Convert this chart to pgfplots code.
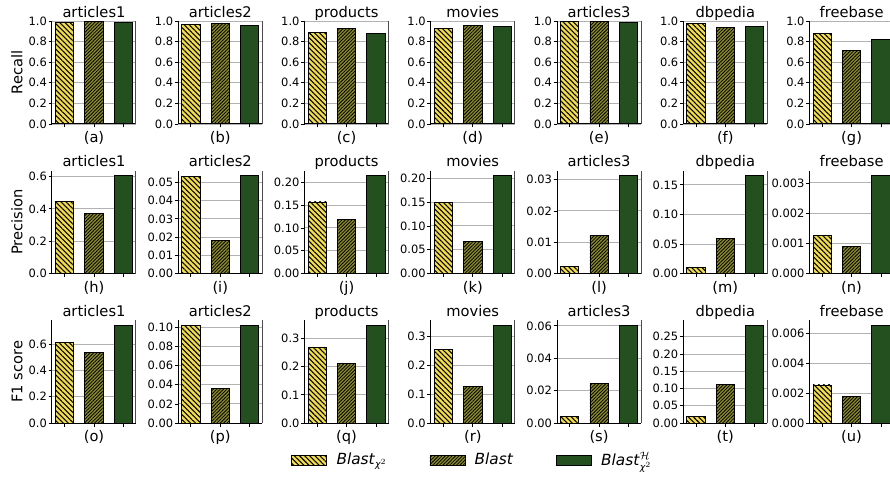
\documentclass[border=0pt]{standalone}
\usepackage{pgfplots}
\pgfplotsset{compat=1.18}
\usepgfplotslibrary{groupplots}
\usetikzlibrary{patterns.meta}
\usepackage{fontspec}
\setmainfont{DejaVu Sans}
\definecolor{yel}{RGB}{242,221,78}
\definecolor{oli}{RGB}{138,138,46}
\definecolor{dgr}{RGB}{35,80,30}
\definecolor{gridgray}{RGB}{178,178,178}
\newcommand\ticksize{\fontsize{8.6}{10}\selectfont}
\newcommand\labsize{\fontsize{11}{13}\selectfont}
\pgfplotsset{
  swatch/.style={legend image code/.code={\draw[##1] (0pt,-3.75pt) rectangle (26.25pt,3.75pt);}},
  A/.style={ybar, bar width=0.62, bar shift=0pt, fill=yel, draw=black, line width=0.6pt, forget plot,
    postaction={pattern={Lines[angle=-45,distance=2.7pt,line width=0.8pt]}, pattern color=black}},
  B/.style={ybar, bar width=0.62, bar shift=0pt, fill=oli, draw=black, line width=0.6pt, forget plot,
    postaction={pattern={Lines[angle=45,distance=1.8pt,line width=0.6pt]}, pattern color=black}},
  C/.style={ybar, bar width=0.62, bar shift=0pt, fill=dgr, draw=black, line width=0.6pt, forget plot},
  panel/.style={
    scale only axis, width=63pt, height=77.25pt,
    xmin=-0.43, xmax=2.43, ymin=0,
    xtick={0,1,2}, xticklabels={},
    scaled y ticks=false,
    tick align=outside, xtick pos=bottom, ytick pos=left,
    major tick length=2.6pt,
    tick style={black, line width=0.6pt},
    ymajorgrids, grid style={line width=0.7pt, color=gridgray},
    axis line style={draw=none},
    after end axis/.code={
      \draw[black, line width=0.75pt] (rel axis cs:0,1) -- (rel axis cs:0,0) -- (rel axis cs:1,0);
      \draw[black!70, line width=0.75pt] (rel axis cs:1,0) -- (rel axis cs:1,1);
    },
    every axis title/.style={at={(axis description cs:0.5,1)}, anchor=base, yshift=2.8pt, font=\labsize},
    every axis x label/.style={at={(axis description cs:0.5,0)}, anchor=north, yshift=-5.6pt, inner sep=0pt, font=\labsize},
    ylabel style={font=\labsize},
    tick label style={font=\ticksize},
    yticklabel style={inner sep=1pt},
  },
  rec/.style={ymax=1, ytick={0,0.2,0.4,0.6,0.8,1}, yticklabels={0.0,0.2,0.4,0.6,0.8,1.0}},
}
\begin{document}
\begin{tikzpicture}
\begin{groupplot}[group style={group size=7 by 3, horizontal sep=31.7pt, vertical sep=34.9pt}, panel]
% ---------------- Recall
\nextgroupplot[title=articles1, xlabel=(a), ylabel=Recall, rec]
\addplot[A] coordinates {(0,0.987)};
\addplot[B] coordinates {(1,0.997)};
\addplot[C] coordinates {(2,0.990)};
\nextgroupplot[title=articles2, xlabel=(b), rec]
\addplot[A] coordinates {(0,0.968)};
\addplot[B] coordinates {(1,0.977)};
\addplot[C] coordinates {(2,0.955)};
\nextgroupplot[title=products, xlabel=(c), rec]
\addplot[A] coordinates {(0,0.890)};
\addplot[B] coordinates {(1,0.929)};
\addplot[C] coordinates {(2,0.877)};
\nextgroupplot[title=movies, xlabel=(d), rec]
\addplot[A] coordinates {(0,0.930)};
\addplot[B] coordinates {(1,0.960)};
\addplot[C] coordinates {(2,0.949)};
\nextgroupplot[title=articles3, xlabel=(e), rec]
\addplot[A] coordinates {(0,0.998)};
\addplot[B] coordinates {(1,0.998)};
\addplot[C] coordinates {(2,0.990)};
\nextgroupplot[title=dbpedia, xlabel=(f), rec]
\addplot[A] coordinates {(0,0.980)};
\addplot[B] coordinates {(1,0.940)};
\addplot[C] coordinates {(2,0.950)};
\nextgroupplot[title=freebase, xlabel=(g), rec]
\addplot[A] coordinates {(0,0.880)};
\addplot[B] coordinates {(1,0.718)};
\addplot[C] coordinates {(2,0.822)};
% ---------------- Precision
\nextgroupplot[title=articles1, xlabel=(h), ylabel=Precision, ymax=0.637,
  ytick={0,0.2,0.4,0.6}, yticklabels={0.0,0.2,0.4,0.6}]
\addplot[A] coordinates {(0,0.444)};
\addplot[B] coordinates {(1,0.372)};
\addplot[C] coordinates {(2,0.607)};
\nextgroupplot[title=articles2, xlabel=(i), ymax=0.0565,
  ytick={0,0.01,0.02,0.03,0.04,0.05}, yticklabels={0.00,0.01,0.02,0.03,0.04,0.05}]
\addplot[A] coordinates {(0,0.0533)};
\addplot[B] coordinates {(1,0.0181)};
\addplot[C] coordinates {(2,0.0538)};
\nextgroupplot[title=products, xlabel=(j), ymax=0.2258,
  ytick={0,0.05,0.1,0.15,0.2}, yticklabels={0.00,0.05,0.10,0.15,0.20}]
\addplot[A] coordinates {(0,0.157)};
\addplot[B] coordinates {(1,0.119)};
\addplot[C] coordinates {(2,0.215)};
\nextgroupplot[title=movies, xlabel=(k), ymax=0.2163,
  ytick={0,0.05,0.1,0.15,0.2}, yticklabels={0.00,0.05,0.10,0.15,0.20}]
\addplot[A] coordinates {(0,0.1487)};
\addplot[B] coordinates {(1,0.068)};
\addplot[C] coordinates {(2,0.206)};
\nextgroupplot[title=articles3, xlabel=(l), ymax=0.0329,
  ytick={0,0.01,0.02,0.03}, yticklabels={0.00,0.01,0.02,0.03}]
\addplot[A] coordinates {(0,0.00223)};
\addplot[B] coordinates {(1,0.0123)};
\addplot[C] coordinates {(2,0.0313)};
\nextgroupplot[title=dbpedia, xlabel=(m), ymax=0.1743,
  ytick={0,0.05,0.1,0.15}, yticklabels={0.00,0.05,0.10,0.15}]
\addplot[A] coordinates {(0,0.0107)};
\addplot[B] coordinates {(1,0.0593)};
\addplot[C] coordinates {(2,0.166)};
\nextgroupplot[title=freebase, xlabel=(n), ymax=0.00341,
  ytick={0,0.001,0.002,0.003}, yticklabels={0.000,0.001,0.002,0.003}]
\addplot[A] coordinates {(0,0.00127)};
\addplot[B] coordinates {(1,0.00089)};
\addplot[C] coordinates {(2,0.00325)};
% ---------------- F1
\nextgroupplot[title=articles1, xlabel=(o), ylabel=F1 score, ymax=0.785,
  ytick={0,0.2,0.4,0.6}, yticklabels={0.0,0.2,0.4,0.6}]
\addplot[A] coordinates {(0,0.613)};
\addplot[B] coordinates {(1,0.539)};
\addplot[C] coordinates {(2,0.748)};
\nextgroupplot[title=articles2, xlabel=(p), ymax=0.1076,
  ytick={0,0.02,0.04,0.06,0.08,0.1}, yticklabels={0.00,0.02,0.04,0.06,0.08,0.10}]
\addplot[A] coordinates {(0,0.1015)};
\addplot[B] coordinates {(1,0.036)};
\addplot[C] coordinates {(2,0.1025)};
\nextgroupplot[title=products, xlabel=(q), ymax=0.3654,
  ytick={0,0.1,0.2,0.3}, yticklabels={0.0,0.1,0.2,0.3}]
\addplot[A] coordinates {(0,0.268)};
\addplot[B] coordinates {(1,0.211)};
\addplot[C] coordinates {(2,0.348)};
\nextgroupplot[title=movies, xlabel=(r), ymax=0.355,
  ytick={0,0.1,0.2,0.3}, yticklabels={0.0,0.1,0.2,0.3},
  legend style={at={(0.5,-0.36)}, anchor=center, legend columns=3, draw=none, fill=none,
    font=\fontsize{11.5}{13}\selectfont,
    /tikz/every odd column/.append style={column sep=5pt},
    /tikz/every even column/.append style={column sep=30pt}}]
\addplot[A] coordinates {(0,0.255)};
\addplot[B] coordinates {(1,0.125)};
\addplot[C] coordinates {(2,0.338)};
\addlegendimage{swatch, fill=yel, draw=black, line width=0.6pt, postaction={pattern={Lines[angle=-45,distance=2.7pt,line width=0.8pt]}, pattern color=black}}
\addlegendentry{\textit{Blast}$_{\mbox{\scriptsize\itshape χ}^{2}}$}
\addlegendimage{swatch, fill=oli, draw=black, line width=0.6pt, postaction={pattern={Lines[angle=45,distance=1.8pt,line width=0.6pt]}, pattern color=black}}
\addlegendentry{\textit{Blast}}
\addlegendimage{swatch, fill=dgr, draw=black, line width=0.6pt}
\addlegendentry{\textit{Blast}$^{\mathcal{H}}_{\mbox{\scriptsize\itshape χ}^{2}}$}
\nextgroupplot[title=articles3, xlabel=(s), ymax=0.0636,
  ytick={0,0.02,0.04,0.06}, yticklabels={0.00,0.02,0.04,0.06}]
\addplot[A] coordinates {(0,0.0043)};
\addplot[B] coordinates {(1,0.0243)};
\addplot[C] coordinates {(2,0.0606)};
\nextgroupplot[title=dbpedia, xlabel=(t), ymax=0.2982,
  ytick={0,0.05,0.1,0.15,0.2,0.25}, yticklabels={0.00,0.05,0.10,0.15,0.20,0.25}]
\addplot[A] coordinates {(0,0.0195)};
\addplot[B] coordinates {(1,0.1116)};
\addplot[C] coordinates {(2,0.284)};
\nextgroupplot[title=freebase, xlabel=(u), ymax=0.00689,
  ytick={0,0.002,0.004,0.006}, yticklabels={0.000,0.002,0.004,0.006}]
\addplot[A] coordinates {(0,0.00255)};
\addplot[B] coordinates {(1,0.00177)};
\addplot[C] coordinates {(2,0.00656)};
\end{groupplot}
\pgfresetboundingbox
\path[use as bounding box] ([xshift=-39pt,yshift=15.75pt]group c1r1.north west) rectangle ++(667.5pt,-357.75pt);
\end{tikzpicture}
\end{document}
